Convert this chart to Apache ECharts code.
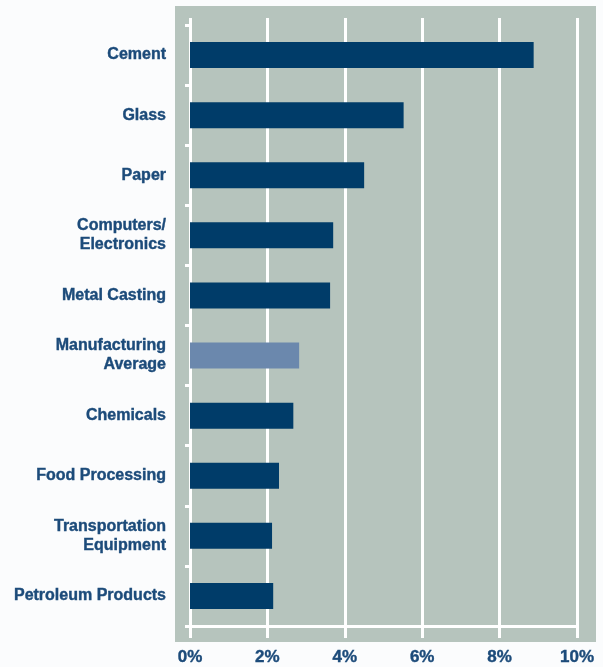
<!DOCTYPE html>
<html>
<head>
<meta charset="UTF-8">
<title>Energy cost share by industry</title>
<script type="text/javascript" src="https://cdn.jsdelivr.net/npm/echarts@6/dist/echarts.min.js"></script>
<style>
  html, body { margin: 0; padding: 0; background: #fbfcfd; }
  #main { width: 603px; height: 667px; }
</style>
</head>
<body>
<div id="main"></div>
<script type="text/javascript">
// categories from bottom to top (category axis draws first item at bottom)
var industries = ['Petroleum Products', 'Transportation\nEquipment', 'Food Processing', 'Chemicals',
  'Manufacturing\nAverage', 'Metal Casting', 'Computers/\nElectronics', 'Paper', 'Glass', 'Cement'];
var shares = [2.15, 2.12, 2.3, 2.67, 2.82, 3.62, 3.7, 4.5, 5.52, 8.88];
var xTicks = [0, 2, 4, 6, 8, 10];

var navy = '#003c69';
var avgBlue = '#6b88ad';
var textBlue = '#1c4b7a';

var myChart = echarts.init(document.getElementById('main'));

var barData = [];
for (var i = 0; i < shares.length; i++) {
  barData.push({
    value: shares[i],
    itemStyle: { color: industries[i].indexOf('Average') >= 0 ? avgBlue : navy }
  });
}

myChart.setOption({
  animation: false,
  graphic: [{
    type: 'rect',
    z: -10,
    shape: { x: 175, y: 6, width: 421, height: 636 },
    style: { fill: '#b6c4bd' }
  }],
  grid: { left: 190, right: 26, top: 25, bottom: 41 },
  xAxis: [{
    type: 'value',
    position: 'bottom',
    min: 0, max: 10, interval: 2,
    axisLine: { show: true, lineStyle: { color: '#ffffff', width: 3 } },
    axisTick: { show: true, inside: false, length: 12, lineStyle: { color: '#ffffff', width: 3 } },
    splitLine: { show: true, lineStyle: { color: '#ffffff', width: 3 } },
    axisLabel: {
      margin: 23,
      color: textBlue,
      fontFamily: 'Liberation Sans, Arial, sans-serif',
      fontWeight: 'bold',
      fontSize: 17,
      textBorderColor: textBlue,
      textBorderWidth: 0.4,
      formatter: function (v) { return xTicks.indexOf(v) >= 0 ? v + '%' : ''; }
    }
  }, {
    type: 'value',
    position: 'top',
    min: 0, max: 10, interval: 2,
    axisLine: { show: false },
    axisTick: { show: true, length: 7, lineStyle: { color: '#ffffff', width: 3 } },
    splitLine: { show: false },
    axisLabel: { show: false }
  }],
  yAxis: {
    type: 'category',
    data: industries,
    axisLine: { show: true, lineStyle: { color: '#ffffff', width: 3 } },
    axisTick: { show: true, length: 5, lineStyle: { color: '#ffffff', width: 3 } },
    axisLabel: {
      margin: 24,
      color: textBlue,
      fontFamily: 'Liberation Sans, Arial, sans-serif',
      fontWeight: 'bold',
      fontSize: 16,
      lineHeight: 19,
      align: 'right',
      textBorderColor: textBlue,
      textBorderWidth: 0.4
    }
  },
  series: [{
    type: 'bar',
    xAxisIndex: 0,
    barWidth: 26,
    data: barData
  }]
});
</script>
</body>
</html>
